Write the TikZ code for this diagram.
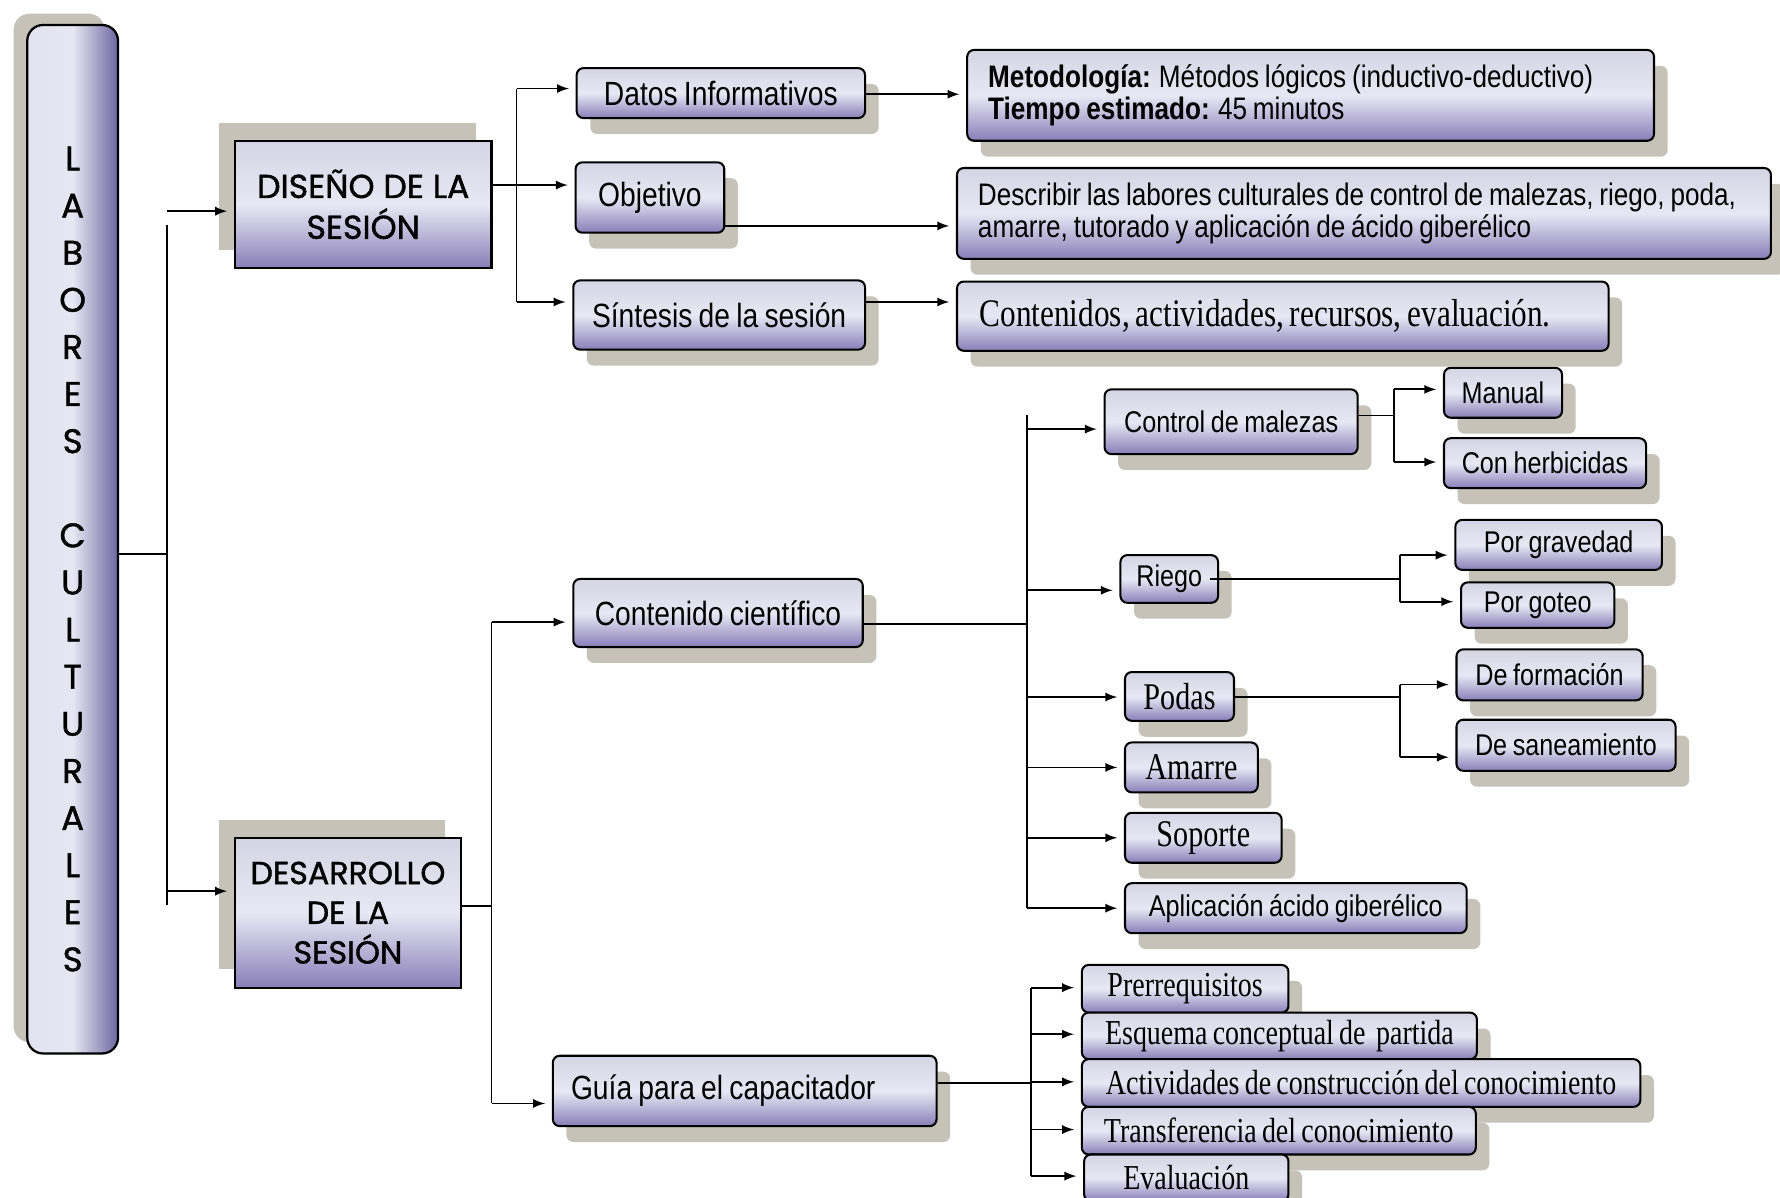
\documentclass[tikz,border=0pt]{standalone}
\usepackage{fontspec}
\usetikzlibrary{arrows,shadows}
\newfontfamily\tah{Liberation Sans}[FakeStretch=0.84, WordSpace=0.8]
\newfontfamily\tnr{Liberation Serif}[FakeStretch=0.8, WordSpace=0.75]
\newfontfamily\comic{Poppins}[FakeBold=1.2]
\definecolor{lavtop}{RGB}{212,212,228}
\definecolor{lavmid}{RGB}{232,232,244}
\definecolor{lavbot}{RGB}{136,126,184}
\definecolor{colleft}{RGB}{226,226,240}
\definecolor{colright}{RGB}{110,102,160}
\definecolor{shadowgray}{RGB}{198,194,184}
\tikzset{
	box/.style={draw, line width=0.9pt, rounded corners=3pt, top color=lavtop, bottom color=lavbot, middle color=lavmid, inner sep=0pt,
		drop shadow={shadow xshift=6pt, shadow yshift=-7pt, fill=shadowgray, opacity=1}},
	headbox/.style={draw, line width=1pt, top color=lavtop, bottom color=lavbot, middle color=lavmid, inner sep=0pt, align=center,
		drop shadow={shadow xshift=-7pt, shadow yshift=8pt, fill=shadowgray, opacity=1}},
	big/.style={font=\tah\fontsize{14.8}{17}\selectfont},
	small/.style={font=\tah\fontsize{13.2}{15}\selectfont},
	note/.style={font=\tah\fontsize{13.7}{14}\selectfont, inner xsep=9.25pt, align=flush left},
	serif/.style={font=\tnr\fontsize{16.6}{18}\selectfont},
	serifb/.style={font=\tnr\fontsize{15.4}{17}\selectfont},
	line/.style={line width=0.8pt},
	arr/.style={-latex, line width=0.8pt, shorten >=3pt}
}
\begin{document}
\begin{tikzpicture}[x=0.5pt, y=-0.5pt]
		\useasboundingbox (0,0) rectangle (1568,1055);
		%%  main column  %%%%%%%%
		\node[draw, line width=1pt, rounded corners=7pt, left color=colleft, right color=colright, middle color=lavmid!80!colleft,
			minimum width=40pt, minimum height=453pt, inner sep=0pt,
			drop shadow={shadow xshift=-6pt, shadow yshift=5pt, fill=shadowgray, opacity=1}] (col) at (64,475) {};
		\node[font=\comic\fontsize{15}{20.75}\selectfont, align=center] (colt) at (64,492.5)
			{L\\A\\B\\O\\R\\E\\S\\ \\C\\U\\L\\T\\U\\R\\A\\L\\E\\S};
		%%  session boxes  %%%%%%%%
		\node[headbox, minimum width=113pt, minimum height=56pt, font=\comic\fontsize{14.6}{18}\selectfont] (dis) at (320,180) {DISEÑO DE LA\\SESIÓN};
		\node[headbox, minimum width=99.5pt, minimum height=66pt, font=\comic\fontsize{14}{17.5}\selectfont] (des) at (306.5,804) {DESARROLLO\\DE LA\\SESIÓN};
		%%  design of the session  %%%%%%%%
		\node[box, big, minimum width=127pt, minimum height=22pt] (datos) at (635,82) {Datos Informativos};
		\node[box, big, minimum width=65.5pt, minimum height=31pt] (obj) at (572.5,174) {Objetivo};
		\node[box, big, minimum width=128.5pt, minimum height=30.5pt] (sint) at (633.5,277.5) {Síntesis de la sesión};
		\node[box, note, text width=284pt, minimum height=40pt] (meto) at (1154.5,84)
			{\textbf{Metodología:} Métodos lógicos (inductivo-deductivo)\\\textbf{Tiempo estimado:} 45 minutos};
		\node[box, note, text width=340pt, minimum height=40pt] (descr) at (1201.5,188)
			{Describir las labores culturales de control de malezas, riego, poda,\\amarre, tutorado y aplicación de ácido giberélico};
		\node[box, font=\tnr\fontsize{17.2}{18}\selectfont, inner xsep=10pt, text width=267pt, align=flush left, minimum height=30.5pt] (cont) at (1130,278.5)
			{Contenidos, actividades, recursos, evaluación.};
		%%  development of the session  %%%%%%%%
		\node[box, big, minimum width=127.5pt, minimum height=30pt] (cient) at (632.5,540) {Contenido científico};
		\node[box, big, inner xsep=8pt, text width=153pt, align=flush left, minimum height=31pt] (guia) at (656,961) {Guía para el capacitador};
		\node[box, small, minimum width=111.5pt, minimum height=28.5pt] (malezas) at (1084.5,371.5) {Control de malezas};
		\node[box, small, minimum width=52pt, minimum height=22pt] (manual) at (1324,346) {Manual};
		\node[box, small, minimum width=89pt, minimum height=22pt] (herb) at (1361,408) {Con herbicidas};
		\node[box, small, minimum width=43pt, minimum height=21pt] (riego) at (1030,510) {Riego};
		\node[box, small, minimum width=91pt, minimum height=22pt] (grav) at (1373,480) {Por gravedad};
		\node[box, small, minimum width=67.5pt, minimum height=20pt] (goteo) at (1354.5,533) {Por goteo};
		\node[box, serif, minimum width=48pt, minimum height=21.5pt] (podas) at (1039,613.5) {Podas};
		\node[box, small, minimum width=82pt, minimum height=22.5pt] (form) at (1365,594.5) {De formación};
		\node[box, small, minimum width=96.5pt, minimum height=22.5pt] (sane) at (1379.5,656.5) {De saneamiento};
		\node[box, serif, minimum width=58.5pt, minimum height=22pt] (amarre) at (1049.5,676) {Amarre};
		\node[box, serif, minimum width=69pt, minimum height=22pt] (soporte) at (1060,738) {Soporte};
		\node[box, small, minimum width=150.5pt, minimum height=22pt] (aplic) at (1141.5,800) {Aplicación ácido giberélico};
		\node[box, serifb, minimum width=91pt, minimum height=21pt] (prer) at (1044,871) {Prerrequisitos};
		\node[box, serifb, minimum width=174pt, minimum height=20.5pt] (esq) at (1127,912.5) {Esquema conceptual de \ partida};
		\node[box, serifb, minimum width=246pt, minimum height=21pt] (activ) at (1199,954) {Actividades de construcción del conocimiento};
		\node[box, serifb, minimum width=173.5pt, minimum height=21pt] (transf) at (1126.5,996) {Transferencia del conocimiento};
		\node[box, serifb, minimum width=90pt, minimum height=20.5pt] (eval) at (1045,1037.5) {Evaluación};
		%%  connectors: column  %%%%%%%%
		\coordinate (c0) at (147,488);
		\coordinate (c1) at (147,186);
		\coordinate (c2) at (147,785);
		\coordinate (ctop) at (147,198);
		\coordinate (cbot) at (147,797);
		\draw[line] (c0 -| col.east) -- (c0);
		\draw[line] (ctop) -- (cbot);
		\draw[arr] (c1) -- (c1 -| dis.west);
		\draw[arr] (c2) -- (c2 -| des.west);
		%%  connectors: design  %%%%%%%%
		\coordinate (d0) at (455,78);
		\coordinate (d1) at (455,163);
		\coordinate (d2) at (455,266);
		\draw[line] (d0) -- (d2);
		\draw[arr] (d0) -- (d0 -| datos.west);
		\draw[arr] (d1 -| dis.east) -- (d1 -| obj.west);
		\draw[arr] (d2) -- (d2 -| sint.west);
		\coordinate (o1) at (762,83);
		\coordinate (o2) at (638,199);
		\coordinate (o3) at (762,266);
		\draw[arr] (o1 -| datos.east) -- (o1 -| meto.west);
		\draw[arr] (o2 -| obj.east) -- (o2 -| descr.west);
		\draw[arr] (o3 -| sint.east) -- (o3 -| cont.west);
		%%  connectors: development  %%%%%%%%
		\coordinate (e0) at (433,798);
		\coordinate (e1) at (433,548);
		\coordinate (e2) at (433,972);
		\draw[line] (e0 -| des.east) -- (e0);
		\draw[line] (e1) -- (e2);
		\draw[arr] (e1) -- (e1 -| cient.west);
		\draw[arr] (e2) -- (e2 -| guia.west);
		%%  connectors: scientific content  %%%%%%%%
		\coordinate (f0) at (905,550);
		\coordinate (ftop) at (905,366);
		\coordinate (f1) at (905,378);
		\coordinate (f2) at (905,520);
		\coordinate (f3) at (905,614);
		\coordinate (f4) at (905,676);
		\coordinate (f5) at (905,738);
		\coordinate (f6) at (905,800);
		\draw[line] (f0 -| cient.east) -- (f0);
		\draw[line] (ftop) -- (f6);
		\draw[arr] (f1) -- (f1 -| malezas.west);
		\draw[arr] (f2) -- (f2 -| riego.west);
		\draw[arr] (f3) -- (f3 -| podas.west);
		\draw[arr] (f4) -- (f4 -| amarre.west);
		\draw[arr] (f5) -- (f5 -| soporte.west);
		\draw[arr] (f6) -- (f6 -| aplic.west);
		%%  sub-branches  %%%%%%%%
		\coordinate (m0) at (1228,366);
		\coordinate (m1) at (1228,343);
		\coordinate (m2) at (1228,407);
		\draw[line] (m0 -| malezas.east) -- (m0);
		\draw[line] (m1) -- (m2);
		\draw[arr] (m1) -- (m1 -| manual.west);
		\draw[arr] (m2) -- (m2 -| herb.west);
		\coordinate (r0) at (1233,510);
		\coordinate (r1) at (1233,489);
		\coordinate (r2) at (1233,530);
		\draw[line] ([xshift=-4pt]r0 -| riego.east) -- (r0);
		\draw[line] (r1) -- (r2);
		\draw[arr] (r1) -- (r1 -| grav.west);
		\draw[arr] (r2) -- (r2 -| goteo.west);
		\coordinate (p0) at (1233,614);
		\coordinate (p1) at (1233,603);
		\coordinate (p2) at (1233,667);
		\draw[line] (p0 -| podas.east) -- (p0);
		\draw[line] (p1) -- (p2);
		\draw[arr] (p1) -- (p1 -| form.west);
		\draw[arr] (p2) -- (p2 -| sane.west);
		%%  connectors: guide  %%%%%%%%
		\coordinate (g0) at (908,954);
		\coordinate (g1) at (908,870);
		\coordinate (g2) at (908,911);
		\coordinate (g3) at (908,953);
		\coordinate (g4) at (908,995);
		\coordinate (g5) at (908,1036);
		\draw[line] (g0 -| guia.east) -- (g0);
		\draw[line] (g1) -- (g5);
		\draw[arr] (g1) -- (g1 -| prer.west);
		\draw[arr] (g2) -- (g2 -| esq.west);
		\draw[arr] (g3) -- (g3 -| activ.west);
		\draw[arr] (g4) -- (g4 -| transf.west);
		\draw[arr] (g5) -- (g5 -| eval.west);
		%%%%%%%%%%%%%%%
\end{tikzpicture}
\end{document}
